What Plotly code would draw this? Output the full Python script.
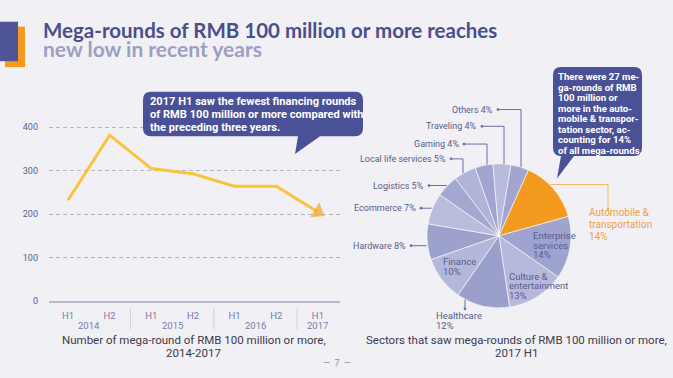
import math
import plotly.graph_objects as go

# ---------------- data ----------------
years = ["2014", "2014", "2015", "2015", "2016", "2016", "2017"]
halves = ["H1", "H2", "H1", "H2", "H1", "H2", "H1"]
rounds = [232, 382, 305, 293, 264, 264, 205]
y_ticks = [0, 100, 200, 300, 400]

sectors = ["Automobile & transportation", "Enterprise services", "Culture & entertainment",
           "Healthcare", "Finance", "Hardware", "Ecommerce", "Logistics",
           "Local life services", "Gaming", "Traveling", "Others"]
shares = [14, 14, 13, 12, 10, 8, 7, 5, 5, 4, 4, 4]

# ---------------- style ----------------
W, H = 673, 378
BG = "#f1f0f5"
NAVY = "#4b5196"
ORANGE = "#f39a1f"
COND = "Roboto, sans-serif"
TITLE_FONT = "Lato, Inter, sans-serif"
slice_colors = [ORANGE, "#9ea3cf", "#b6b9dc", "#9a9fcc", "#b3b7da", "#9da2cd",
                "#b9bcdd", "#a3a8d0", "#b0b4d8", "#a0a4ce", "#b8bbdb", "#a2a6cf"]


def X(px):
    return px / W


def Y(py):
    return 1 - py / H


fig = go.Figure()

# ---------------- line chart ----------------
cats = [f"{y} {h}" for y, h in zip(years, halves)]
fig.add_trace(go.Scatter(
    x=cats, y=rounds, mode="lines+markers",
    line=dict(color="#f9c33a", width=3),
    marker=dict(symbol=["circle"] * (len(rounds) - 1) + ["triangle-up"],
                size=[0] * (len(rounds) - 1) + [15],
                color="#f5a21f", angleref="previous", line=dict(width=0)),
    hoverinfo="skip", showlegend=False,
))

ypx0, ypx1 = 305, 110
y_top = (ypx0 - ypx1) / 0.44
fig.update_xaxes(
    type="category", domain=[X(49), X(340)], range=[-0.456, 6.53],
    showline=True, linecolor="#b8b8ca", linewidth=1.5, showgrid=False,
    ticks="", tickmode="array", tickvals=cats, ticktext=halves,
    tickfont=dict(family=COND, size=9.5, color="#7a7ca8"),
    ticklabelstandoff=5,
)
fig.update_yaxes(
    domain=[Y(ypx0), Y(ypx1)], range=[0, y_top], tickvals=y_ticks,
    showgrid=True, gridcolor="#b3b3c6", griddash="4px,3px", gridwidth=1,
    zeroline=False, showline=False, ticks="",
    tickfont=dict(family="Roboto, sans-serif", size=9, color="#5a5e96"),
    ticklabelstandoff=10,
)

shapes = []
annotations = []

# year group labels and dividers, placed by category index on the x axis
groups = []
for i, y in enumerate(years):
    if not groups or groups[-1][0] != y:
        groups.append([y, i, i])
    else:
        groups[-1][2] = i
for y, i0, i1 in groups:
    annotations.append(dict(xref="x", yref="paper", x=(i0 + i1) / 2, y=Y(329.5),
                            text=y, showarrow=False, xanchor="center", yanchor="middle",
                            borderpad=0, font=dict(family=COND, size=9.5, color="#7a7ca8")))
for b in [g[1] - 0.5 for g in groups]:
    shapes.append(dict(type="line", xref="x", yref="paper", x0=b, x1=b, y0=Y(312), y1=Y(334),
                       line=dict(color="#d2d2de", width=1)))

# ---------------- pie chart ----------------
CX, CY, R = 499, 239, 73
fig.add_trace(go.Pie(
    labels=sectors, values=shares, sort=False, direction="clockwise", rotation=24,
    marker=dict(colors=slice_colors, line=dict(color="#ffffff", width=0.6)),
    textinfo="none", hoverinfo="skip", showlegend=False,
    domain=dict(x=[X(CX - R), X(CX + R)], y=[Y(CY + R), Y(CY - R)]),
))


def line_px(x0, y0, x1, y1, color, width=1):
    shapes.append(dict(type="line", xref="paper", yref="paper",
                       x0=X(x0), y0=Y(y0), x1=X(x1), y1=Y(y1),
                       line=dict(color=color, width=width)))


def dot_px(x, y, color, r=1.4):
    shapes.append(dict(type="circle", xref="paper", yref="paper",
                       x0=X(x - r), x1=X(x + r), y0=Y(y - r), y1=Y(y + r),
                       fillcolor=color, line=dict(width=0)))


def text_lines(x, y0, dy, lines, size, color, anchor="left", family=COND, bold=False):
    for i, t in enumerate(lines):
        annotations.append(dict(
            xref="paper", yref="paper", x=X(x), y=Y(y0 + i * dy),
            text=f"<b>{t}</b>" if bold else t, showarrow=False,
            xanchor=anchor, yanchor="middle", borderpad=0,
            font=dict(family=family, size=size, color=color)))


LEAD = "#6c70a0"
LBL = "#5a5e8a"


def label_text(s, v):
    return f"{s} {v}%"


# top labels: dot, then horizontal to elbow x, then vertical to rim
top_specs = {"Others": (498, 111, 521), "Traveling": (482, 128, 504),
             "Gaming": (464, 146, 487), "Local life services": (451, 161, 463)}
for name, (dx_, dy_, ex) in top_specs.items():
    v = shares[sectors.index(name)]
    rim_y = CY - math.sqrt(R ** 2 - (ex - CX) ** 2)
    line_px(dx_, dy_, ex, dy_, LEAD)
    line_px(ex, dy_, ex, rim_y, LEAD)
    dot_px(dx_, dy_, LEAD)
    text_lines(dx_ - 4, dy_, 0, [label_text(name, v)], 9, LBL, anchor="right")

# left labels: dot, horizontal to rim
left_specs = {"Logistics": (429, 188), "Ecommerce": (421, 211), "Hardware": (411, 249)}
for name, (dx_, dy_) in left_specs.items():
    v = shares[sectors.index(name)]
    rim_x = CX - math.sqrt(R ** 2 - (dy_ - CY) ** 2)
    line_px(dx_, dy_, rim_x, dy_, LEAD)
    dot_px(dx_, dy_, LEAD)
    text_lines(dx_ - 4, dy_, 0, [label_text(name, v)], 9, LBL, anchor="right")

# healthcare below
hx = 465
rim_hy = CY + math.sqrt(R ** 2 - (hx - CX) ** 2)
line_px(hx, rim_hy, hx, 313, LEAD)
dot_px(hx, 313, LEAD)
text_lines(435, 320, 10, ["Healthcare", f"{shares[3]}%"], 9.5, LBL)

# automobile & transportation
ay = 187
rim_ax = CX + math.sqrt(R ** 2 - (ay - CY) ** 2)
line_px(rim_ax, ay, 608, ay, "#f2b56a")
line_px(608, ay, 608, 212, "#f2b56a")
dot_px(608, 212, "#f2b56a")
text_lines(588, 215, 12.3, ["Automobile &", "transportation", f"{shares[0]}%"], 10, "#f0a03c")

# inside labels
text_lines(532, 239, 9.5, ["Enterprise", "services", f"{shares[1]}%"], 9.5, LBL)
text_lines(508, 280, 9.5, ["Culture &", "entertainment", f"{shares[2]}%"], 9.5, LBL)
text_lines(442, 265, 10, ["Finance", f"{shares[4]}%"], 9.5, LBL)


# ---------------- callouts ----------------
def callout(x0, y0, x1, y1, r, tl, tr, tip):
    pts = [("M", x0 + r, y0), ("L", x1 - r, y0), ("Q", x1, y0, x1, y0 + r),
           ("L", x1, y1 - r), ("Q", x1, y1, x1 - r, y1), ("L", tr, y1),
           ("L", tip[0], tip[1]), ("L", tl, y1), ("L", x0 + r, y1),
           ("Q", x0, y1, x0, y1 - r), ("L", x0, y0 + r), ("Q", x0, y0, x0 + r, y0)]
    d = ""
    for p in pts:
        cmd = p[0]
        coords = p[1:]
        s = " ".join(f"{X(coords[i]):.5f},{Y(coords[i + 1]):.5f}" for i in range(0, len(coords), 2))
        d += f"{cmd}{s} "
    shapes.append(dict(type="path", xref="paper", yref="paper", path=d + "Z",
                       fillcolor=NAVY, line=dict(width=0)))


callout(143, 93, 363, 138, 8, 298, 320, (295, 156))
text_lines(149, 103, 13, ["2017 H1 saw the fewest financing rounds",
                          "of RMB 100 million or more compared with",
                          "the preceding three years."], 11.1, "#ffffff", bold=True)

callout(553, 68, 642, 158, 8, 561, 574, (557, 181))
text_lines(557, 78, 10.6, ["There were 27 me-", "ga-rounds of RMB", "100 million or",
                           "more in the auto-", "mobile & transpor-", "tation sector, ac-",
                           "counting for 14%", "of all mega-rounds."], 9.6, "#ffffff", bold=True)

# ---------------- title ----------------
shapes.append(dict(type="rect", xref="paper", yref="paper", x0=X(5), x1=X(25), y0=Y(68), y1=Y(27),
                   fillcolor=ORANGE, line=dict(width=0)))
shapes.append(dict(type="rect", xref="paper", yref="paper", x0=X(0), x1=X(18), y0=Y(62), y1=Y(22),
                   fillcolor="#4e5496", line=dict(width=0)))
text_lines(42, 30, 0, ["Mega-rounds of RMB 100 million or more reaches"], 20.5, "#4a4f8c",
           family=TITLE_FONT, bold=True)
text_lines(42, 49, 0, ["new low in recent years"], 21, "#9c9ec2", family=TITLE_FONT, bold=True)

# ---------------- captions ----------------
text_lines(194, 345, 12.5, ["Number of mega-round of RMB 100 million or more,", "2014-2017"],
           11.5, "#3b3b4d", anchor="center")
text_lines(516, 345, 12.5, ["Sectors that saw mega-rounds of RMB 100 million or more,", "2017 H1"],
           11.5, "#3b3b4d", anchor="center")
text_lines(337, 368, 0, ["—  7  —"], 9, "#8a8a9a", anchor="center")

fig.update_layout(
    width=W, height=H, autosize=False, margin=dict(l=0, r=0, t=0, b=0),
    paper_bgcolor=BG, plot_bgcolor=BG,
    shapes=shapes, annotations=annotations,
)

fig.write_html("out.html", config={"displayModeBar": False, "responsive": False},
               post_script="document.body.style.margin='0px';document.body.style.overflow='hidden';")
